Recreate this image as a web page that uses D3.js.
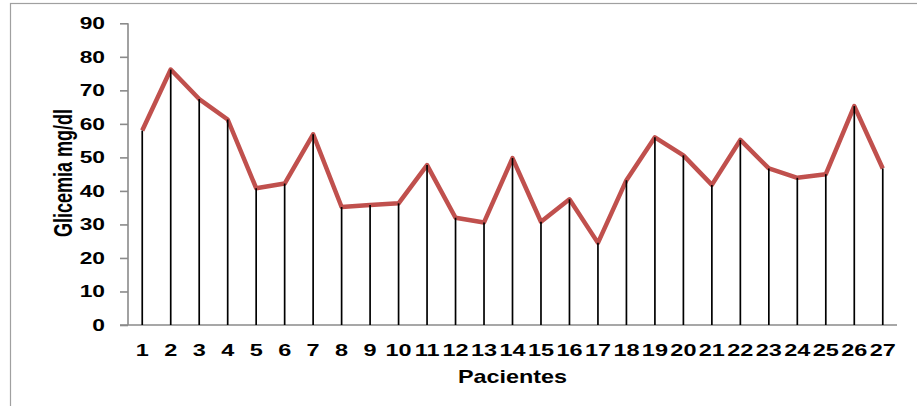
<!DOCTYPE html>
<html>
<head>
<meta charset="utf-8">
<script src="https://cdn.jsdelivr.net/npm/d3@7"></script>
<style>
  html, body { margin: 0; padding: 0; background: #fff; }
  svg { display: block; }
  text { font-family: "Liberation Sans", Arial, sans-serif; font-weight: bold; fill: #000; }
</style>
</head>
<body>
<svg id="chart" width="917" height="406"></svg>
<script>
const categories = ["1","2","3","4","5","6","7","8","9","10","11","12","13","14","15","16","17","18","19","20","21","22","23","24","25","26","27"];
const glicemia = [58, 76.2, 67.4, 61.3, 40.8, 42.2, 56.9, 35.2, 35.8, 36.3, 47.7, 32, 30.6, 49.8, 30.8, 37.5, 24.5, 43.2, 56, 50.6, 41.8, 55.2, 46.7, 43.9, 45, 65.3, 46.7];
const yTicks = [0, 10, 20, 30, 40, 50, 60, 70, 80, 90];
const yTitle = "Glicemia mg/dl";
const xTitle = "Pacientes";

const svg = d3.select("#chart");
const mLeft = 128, mRight = 897, mTop = 23.3, mBottom = 325;
const stretch = 1.38;

// outer frame
svg.append("rect")
  .attr("x", 10.5).attr("y", 3.5)
  .attr("width", 1200).attr("height", 1200)
  .attr("fill", "none").attr("stroke", "#a0a0a0").attr("stroke-width", 1.2);

const x = d3.scalePoint().domain(categories).range([mLeft, mRight]).padding(0.5);
const y = d3.scaleLinear().domain([0, 90]).range([mBottom, mTop]);

// y axis
const yAxis = svg.append("g").attr("transform", `translate(${mLeft},0)`)
  .call(d3.axisLeft(y).tickValues(yTicks).tickSize(8).tickFormat(""));
yAxis.select(".domain").attr("stroke", "#8a8a8a").attr("stroke-width", 1.6).attr("d", `M0,${mTop}V${mBottom}`);
yAxis.selectAll(".tick line").attr("stroke", "#8a8a8a").attr("stroke-width", 1.6);

// y tick labels (stretched horizontally)
svg.append("g").selectAll("text").data(yTicks).join("text")
  .attr("transform", d => `translate(${mLeft - 23},${y(d) + 6}) scale(${stretch},1)`)
  .attr("text-anchor", "end")
  .attr("font-size", 16.5)
  .text(d => d);

// x axis line
svg.append("line")
  .attr("x1", mLeft - 8).attr("x2", mRight)
  .attr("y1", y(0)).attr("y2", y(0))
  .attr("stroke", "#8a8a8a").attr("stroke-width", 1.6);

// x tick labels
svg.append("g").selectAll("text").data(categories).join("text")
  .attr("transform", d => `translate(${x(d)},${356}) scale(${stretch},1)`)
  .attr("text-anchor", "middle")
  .attr("font-size", 17)
  .text(d => d);

// red line
const line = d3.line().x((d, i) => x(categories[i])).y(d => y(d));
svg.append("path").datum(glicemia)
  .attr("d", line)
  .attr("fill", "none")
  .attr("stroke", "#c0504d")
  .attr("stroke-width", 4.5)
  .attr("stroke-linejoin", "round");

// drop lines
svg.append("g").selectAll("line").data(glicemia).join("line")
  .attr("x1", (d, i) => x(categories[i])).attr("x2", (d, i) => x(categories[i]))
  .attr("y1", d => y(d)).attr("y2", y(0))
  .attr("stroke", "#000").attr("stroke-width", 1.7);

// axis titles
svg.append("text")
  .attr("transform", `translate(${(mLeft + mRight) / 2},383) scale(1.3,1)`)
  .attr("text-anchor", "middle")
  .attr("font-size", 18)
  .text(xTitle);

svg.append("text")
  .attr("transform", `translate(72,173) scale(${stretch},1) rotate(-90)`)
  .attr("text-anchor", "middle")
  .attr("font-size", 18)
  .text(yTitle);
</script>
</body>
</html>
